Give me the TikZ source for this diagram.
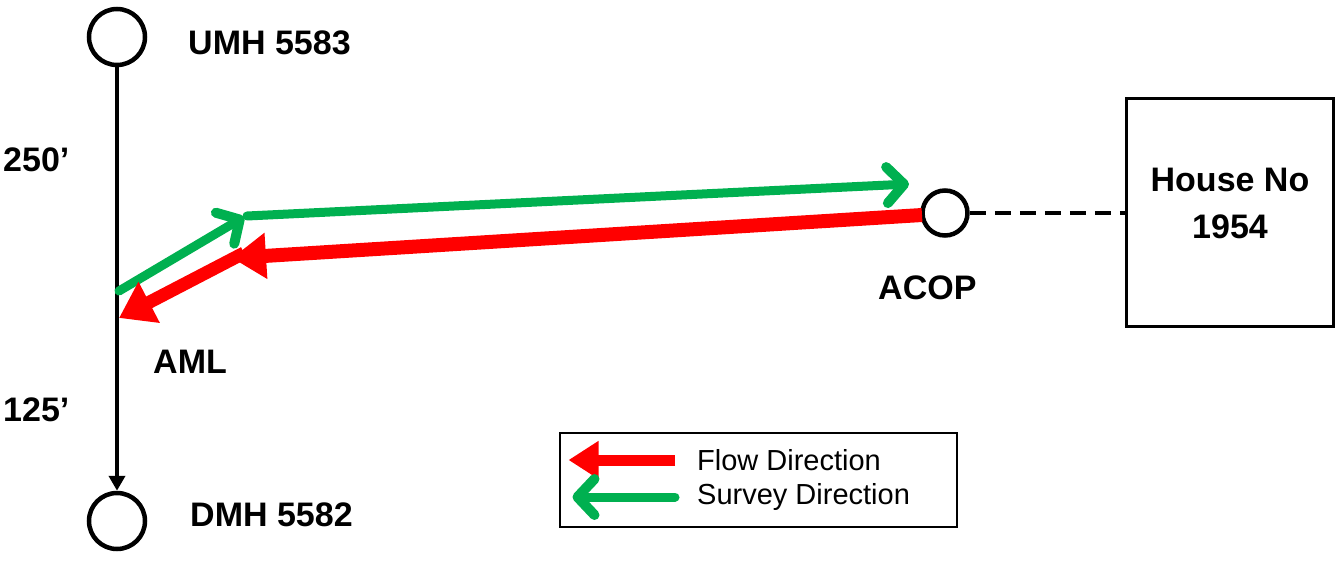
\documentclass[tikz,border=0pt]{standalone}
\usepackage{fontspec}
\setmainfont{Liberation Sans}
\usetikzlibrary{arrows.meta, positioning, calc}
\definecolor{flowred}{RGB}{255,0,0}
\definecolor{surveygreen}{RGB}{0,176,80}
\tikzset{
manhole/.style={circle, draw, line width=4.5pt, minimum size=56pt, inner sep=0pt}, % manholes and the clean-out
lbl/.style={font=\fontsize{34}{40}\selectfont\bfseries, inner sep=0pt, anchor=west},
legtext/.style={font=\fontsize{29}{34}\selectfont, inner sep=0pt, anchor=west},
flow/.style={flowred, line width=14pt, -{Triangle[length=34pt,width=44pt]}},
survey/.style={surveygreen, line width=9pt, line cap=round, -{Straight Barb[length=17pt,width=36pt,line width=10pt,line join=round,line cap=round]}},
}

\begin{document}
\begin{tikzpicture}[x=1pt, y=-1pt]
    \useasboundingbox (0,0) rectangle (1338,562);
    % manholes on the main line
    \node[manhole] (umh) at (117,37) {};
    \node[manhole] (dmh) at (117,521) {};
    \node[manhole, minimum size=45pt] (acop) at (945,213) {};
    \node[draw, line width=3.5pt, minimum width=207pt, minimum height=228pt, align=center,
          font=\fontsize{34}{47}\selectfont\bfseries] (house) at (1230,212.5) {House No\\1954\\[-28pt]};
    \coordinate (aml) at (119,305);
    \coordinate (bend) at (244,217);
    \coordinate (surveyend) at (909,184);
    \coordinate (flowstart) at (922,215);
    \coordinate (flowbend) at (232,258);
    % labels
    \node[lbl] (umhlbl) at (188,43) {UMH 5583};
    \node[lbl] (dmhlbl) at (190,515) {DMH 5582};
    \node[lbl] (up) at (3,160) {250’};
    \node[lbl] (down) at (3,410) {125’};
    \node[lbl] (amllbl) at (153,362) {AML};
    \node[lbl] (acoplbl) at (878,288) {ACOP};
    % pipes
    \draw[line width=4.5pt, -{Triangle[length=15pt,width=16pt]}] (umh) -- (dmh);
    \draw[line width=3.5pt, dash pattern=on 16pt off 9pt] (acop) -- (acop -| house.west);
    % directions
    \draw[survey] (aml |- 0,291) -- (bend);
    \draw[survey] ($(bend)+(3,-1)$) -- (surveyend);
    \draw[flow] (flowstart) -- (flowbend);
    \draw[flow, line width=13pt] ($(flowbend)+(12,-5)$) -- (aml |- 0,318);
    % legend
    \node[draw, line width=2pt, minimum width=397pt, minimum height=94pt] (legend) at (758,479.5) {};
    \node[legtext] (flowtxt) at (697,460) {Flow Direction};
    \node[legtext] (surveytxt) at (697,497) {Survey Direction};
    \draw[flow, line width=11pt, -{Triangle[length=30pt,width=36pt]}] (flowtxt.west) ++(-22,0) coordinate (f1) -- ($(legend.west)+(10,-19.5)$);
    \draw[survey] (surveytxt.west) ++(-22,0) coordinate (s1) -- ($(legend.west)+(14,17.5)$);
\end{tikzpicture}
\end{document}
